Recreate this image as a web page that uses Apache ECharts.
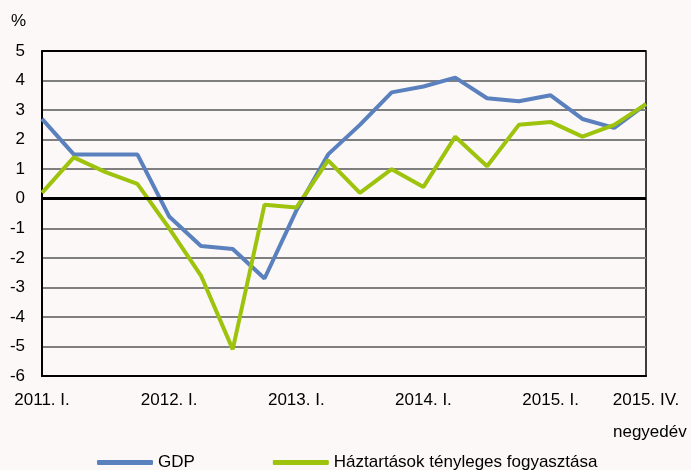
<!DOCTYPE html>
<html lang="hu">
<head>
<meta charset="UTF-8">
<title>GDP és háztartások fogyasztása</title>
<script src="https://cdn.jsdelivr.net/npm/echarts@6/dist/echarts.min.js"></script>
<style>
  body { margin: 0; background: #fbf8f7; }
  #root { width: 691px; height: 470px; }
</style>
</head>
<body>
<div id="root"></div>
<script>
  // negyedévek 2011. I. - 2015. IV.
  var quarters = [
    '2011. I.', '2011. II.', '2011. III.', '2011. IV.',
    '2012. I.', '2012. II.', '2012. III.', '2012. IV.',
    '2013. I.', '2013. II.', '2013. III.', '2013. IV.',
    '2014. I.', '2014. II.', '2014. III.', '2014. IV.',
    '2015. I.', '2015. II.', '2015. III.', '2015. IV.'
  ];
  var shownLabels = [0, 4, 8, 12, 16, 19];

  var gdp = [2.7, 1.5, 1.5, 1.5, -0.6, -1.6, -1.7, -2.7, -0.4, 1.5,
             2.5, 3.6, 3.8, 4.1, 3.4, 3.3, 3.5, 2.7, 2.4, 3.2];
  var consumption = [0.2, 1.4, 0.9, 0.5, -1.0, -2.6, -5.1, -0.2, -0.3, 1.3,
                     0.2, 1.0, 0.4, 2.1, 1.1, 2.5, 2.6, 2.1, 2.5, 3.2];

  var font = 'Liberation Sans, Arial, sans-serif';
  var gridColors = ['#000', '#7f7f7f', '#7f7f7f', '#7f7f7f', '#7f7f7f', '#7f7f7f',
                    '#7f7f7f', '#7f7f7f', '#7f7f7f', '#7f7f7f', '#7f7f7f', '#000'];

  var chart = echarts.init(document.getElementById('root'));

  chart.setOption({
    backgroundColor: '#fbf8f7',
    animation: false,
    textStyle: { fontFamily: font },
    grid: { left: 42, right: 45, top: 51, bottom: 94, show: true, borderColor: '#000', borderWidth: 1.5 },
    graphic: [
      { type: 'text', left: 11, top: 13, style: { text: '%', font: '17px ' + font, fill: '#000' } },
      { type: 'text', left: 613, top: 424, style: { text: 'negyedév', font: '17px ' + font, fill: '#000' } }
    ],
    legend: {
      left: 92, top: 449,
      itemWidth: 56, itemHeight: 5, itemGap: 78,
      icon: 'roundRect',
      textStyle: { fontSize: 17, color: '#000', fontFamily: font },
      data: ['GDP', 'Háztartások tényleges fogyasztása']
    },
    xAxis: {
      type: 'category',
      data: quarters,
      boundaryGap: false,
      axisLine: { onZero: false, lineStyle: { color: '#000', width: 2 } },
      axisTick: { show: false },
      axisLabel: {
        color: '#000', fontSize: 17, margin: 16,
        interval: function (i) { return shownLabels.indexOf(i) >= 0; }
      },
      splitLine: { show: false }
    },
    yAxis: {
      type: 'value',
      min: -6, max: 5, interval: 1,
      axisLine: { show: true, lineStyle: { color: '#000', width: 2 } },
      axisTick: { show: false },
      axisLabel: { color: '#000', fontSize: 17, margin: 17 },
      splitLine: { lineStyle: { color: gridColors, width: 2 } }
    },
    series: [
      {
        name: 'GDP', type: 'line', data: gdp,
        symbol: 'none', color: '#5a80bd',
        lineStyle: { width: 4, color: '#5a80bd' },
        markLine: {
          silent: true, symbol: 'none', label: { show: false },
          lineStyle: { color: '#000', width: 3, type: 'solid' },
          data: [{ yAxis: 0 }]
        },
        z: 3
      },
      {
        name: 'Háztartások tényleges fogyasztása', type: 'line', data: consumption,
        symbol: 'none', color: '#9ec30c',
        lineStyle: { width: 4, color: '#9ec30c' },
        z: 4
      }
    ]
  });
</script>
</body>
</html>
